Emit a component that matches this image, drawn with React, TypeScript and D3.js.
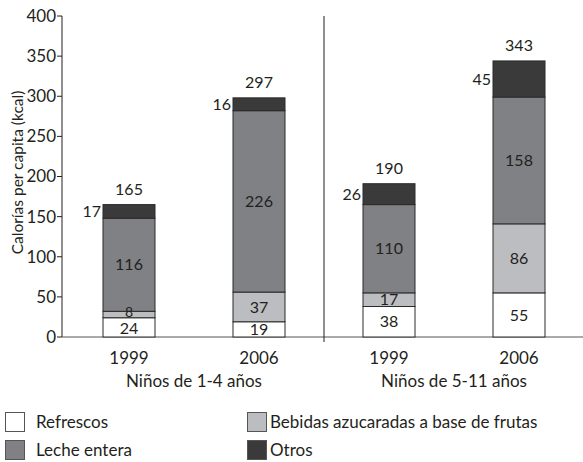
import React from 'react';
import * as d3 from 'd3';

const years = ['1999', '2006', '1999', '2006'];
const groups = ['Niños de 1-4 años', 'Niños de 5-11 años'];
const series = ['Refrescos', 'Bebidas azucaradas a base de frutas', 'Leche entera', 'Otros'];
const refrescos = [24, 19, 38, 55];
const bebidas = [8, 37, 17, 86];
const leche = [116, 226, 110, 158];
const otros = [17, 16, 26, 45];
const totals = [165, 297, 190, 343];
const yTicks = [0, 50, 100, 150, 200, 250, 300, 350, 400];

const colors = ['#ffffff', '#bcbdc0', '#808184', '#3a3a3b'];
const font = 'Lato, "Open Sans", sans-serif';
const ink = '#231f20';

export default function App() {
  const width = 583;
  const height = 462;
  const keys = years.map((y, i) => i);
  const x = d3.scaleBand<number>().domain(keys).range([64, 584]).paddingInner(0.6).paddingOuter(0.3);
  const y = d3.scaleLinear().domain([0, 400]).range([337, 16]);

  const table = keys.map((i) => ({
    refrescos: refrescos[i], bebidas: bebidas[i], leche: leche[i], otros: otros[i],
  }));
  const stack = d3.stack<any>().keys(['refrescos', 'bebidas', 'leche', 'otros'])(table);
  const bw = x.bandwidth();
  const divider = (x(1)! + bw + x(2)!) / 2;

  return (
    <svg width={width} height={height} style={{ position: 'absolute', left: 0, top: 0 }} fontFamily={font} fill={ink}>
      {/* y axis */}
      <line x1={62} x2={62} y1={y(400)} y2={y(0)} stroke={ink} strokeWidth={1} />
      {yTicks.map((t) => (
        <g key={t}>
          <line x1={57} x2={62} y1={y(t)} y2={y(t)} stroke={ink} />
          <text x={56} y={y(t)} dy="0.35em" textAnchor="end" fontSize={17}>{t}</text>
        </g>
      ))}
      <text transform={`translate(18,${y(205)}) rotate(-90)`} textAnchor="middle" dy="0.35em" fontSize={15.5}>
        Calorías per capita (kcal)
      </text>
      {/* x axis */}
      <line x1={62} x2={width} y1={y(0)} y2={y(0)} stroke="#555" strokeWidth={1} />
      <line x1={divider} x2={divider} y1={y(400)} y2={y(0) + 5} stroke={ink} strokeWidth={1} />

      {stack.map((layer, si) => (
        <g key={si}>
          {layer.map((d, i) => (
            <rect key={i} x={x(i)} y={y(d[1])} width={bw} height={y(d[0]) - y(d[1])}
              fill={colors[si]} stroke="#2a2a2a" strokeWidth={1} />
          ))}
        </g>
      ))}
      {stack.map((layer, si) => (
        <g key={'l' + si}>
          {layer.map((d, i) => {
            const v = d[1] - d[0];
            const cy = (y(d[0]) + y(d[1])) / 2;
            if (si === 3) {
              return (
                <text key={i} x={x(i)! - 2} y={cy} dy="0.35em" textAnchor="end" fontSize={16}>{v}</text>
              );
            }
            // tiny segment: smaller label, lifted off the one below
            const tiny = si === 1 && v < 10;
            const nudge = tiny ? -2 : si === 0 && i === 0 ? 1 : 0;
            return (
              <text key={i} x={x(i)! + bw / 2} y={cy + nudge} dy="0.35em" textAnchor="middle" fontSize={tiny ? 14 : 16}>{v}</text>
            );
          })}
        </g>
      ))}
      {keys.map((i) => (
        <text key={'t' + i} x={x(i)! + bw / 2} y={y(stack[3][i][1]) - 10} textAnchor="middle" fontSize={16}>
          {totals[i]}
        </text>
      ))}
      {keys.map((i) => (
        <text key={'c' + i} x={x(i)! + bw / 2} y={358} dy="0.35em" textAnchor="middle" fontSize={17}>{years[i]}</text>
      ))}
      {groups.map((g, gi) => (
        <text key={g} x={(x(gi * 2)! + x(gi * 2 + 1)! + bw) / 2} y={381} dy="0.35em" textAnchor="middle" fontSize={17}>{g}</text>
      ))}

      {/* legend */}
      {series.map((s, si) => {
        const lx = si % 2 === 0 ? 5 : 247;
        const ly = si < 2 ? 412 : 440;
        return (
          <g key={s}>
            <rect x={lx + 0.5} y={ly + 0.5} width={19} height={19} fill={colors[si]} stroke="#555" strokeWidth={1} />
            <text x={si % 2 === 0 ? lx + 31 : lx + 23} y={ly + 10} dy="0.35em" fontSize={17}>{s}</text>
          </g>
        );
      })}
    </svg>
  );
}
